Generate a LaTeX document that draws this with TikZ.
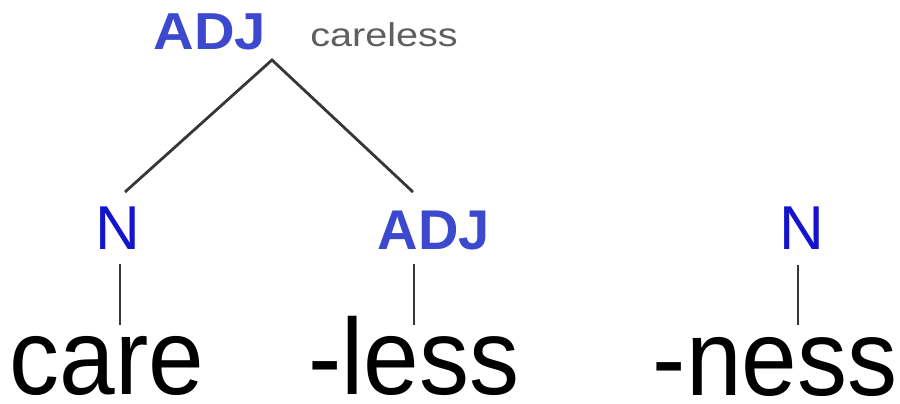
\documentclass[tikz,border=0pt]{standalone}
\usepackage{fontspec}
\setmainfont{Liberation Sans}
\definecolor{catblue}{RGB}{20,20,205}
\definecolor{adjblue}{RGB}{60,72,205}
\definecolor{glossgray}{RGB}{95,95,95}
\definecolor{linegray}{RGB}{55,55,55}
\begin{document}
\begin{tikzpicture}[x=1pt,y=1pt,
  word/.style={inner sep=0pt, anchor=base, text=black, font=\fontsize{100}{110}\selectfont},
  ncat/.style={inner sep=0pt, anchor=base, text=catblue, font=\fontsize{62}{70}\selectfont},
  adjcat/.style={inner sep=0pt, anchor=base, text=adjblue, font=\bfseries\fontsize{#1}{60}\selectfont},
  gloss/.style={inner sep=0pt, anchor=base, text=glossgray, font=\fontsize{33}{40}\selectfont},
  branch/.style={draw=linegray, line width=2.8pt}]
\useasboundingbox (0,0) rectangle (900,404);
\fill[white] (0,0) rectangle (900,404);
% labels
\node[adjcat=52] (topadj) at (210,354) {\scalebox{1.08}[1]{ADJ}};
\node[gloss] (gl) at (384,357) {\scalebox{1.2}[1]{careless}};
\node[ncat] (nleft) at (118,154) {N};
\node[adjcat=56] (midadj) at (434,154) {ADJ};
\node[ncat] (nright) at (802,154) {N};
\node[word] (care) at (107,9) {\scalebox{1}[1.08]{care}};
\node[word] (less) at (414,9) {\scalebox{1}[1.08]{-less}};
\node[word] (ness) at (775,8) {\scalebox{1}[1.08]{-ness}};
% connector end points
\coordinate (apex) at (272,344);
\coordinate (nlefttop) at (125,212);
\coordinate (midtop) at (413,212);
\coordinate (nleftbot) at (120,140);
\coordinate (careTop) at (120,79);
\coordinate (midbot) at (414,140);
\coordinate (lessTop) at (414,79);
\coordinate (nrightbot) at (798,139);
\coordinate (nessTop) at (798,79);
% branches
\draw[branch] (nlefttop) -- (apex) -- (midtop);
\draw[branch] (nleftbot) -- (careTop);
\draw[branch] (midbot) -- (lessTop);
\draw[branch] (nrightbot) -- (nessTop);
\end{tikzpicture}
\end{document}
